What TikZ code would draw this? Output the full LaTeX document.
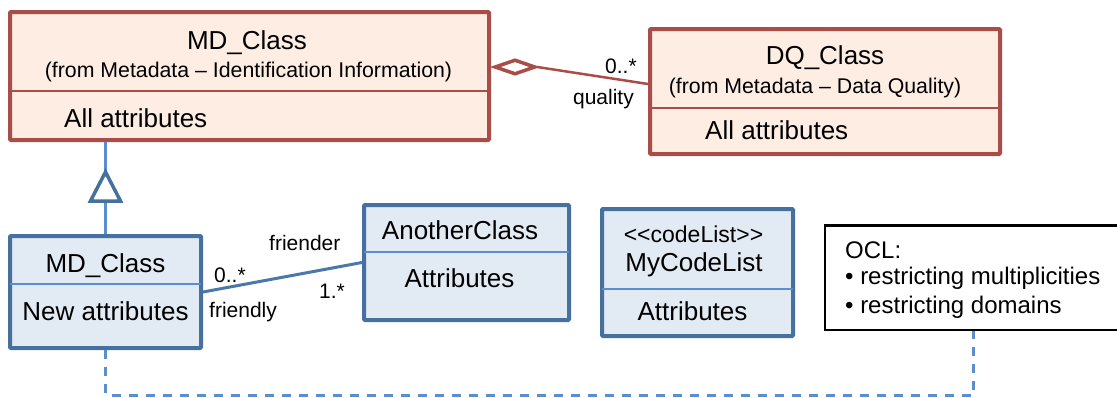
\documentclass[tikz,border=0pt]{standalone}
\usepackage{fontspec}
\setmainfont{Liberation Sans}
\usetikzlibrary{shapes.geometric}
\definecolor{umlred}{RGB}{168,77,72}
\definecolor{umlredfill}{RGB}{253,237,226}
\definecolor{umlblue}{RGB}{70,112,158}
\definecolor{umlbluefill}{RGB}{226,234,244}
\definecolor{umlbluelight}{RGB}{91,142,206}
\definecolor{umlassoc}{RGB}{74,120,170}
\begin{document}
\begin{tikzpicture}[x=1pt,y=-1pt,
  redbox/.style={draw=umlred, fill=umlredfill, line width=4pt, rounded corners=1pt, inner sep=0pt},
  bluebox/.style={draw=umlblue, fill=umlbluefill, line width=4pt, rounded corners=1pt, inner sep=0pt},
  notebox/.style={draw=black, fill=white, line width=2.5pt, inner sep=0pt},
  reddiv/.style={draw=umlred, line width=2.5pt},
  bluediv/.style={draw=umlbluelight, line width=2pt},
  big/.style={font=\fontsize{26}{30}\selectfont, inner sep=0pt},
  sub/.style={font=\fontsize{21.3}{25}\selectfont, inner sep=0pt},
  stereo/.style={font=\fontsize{23}{27}\selectfont, inner sep=0pt},
  note/.style={font=\fontsize{24}{28}\selectfont, inner sep=0pt, anchor=base west},
  lbl/.style={font=\fontsize{21}{25}\selectfont, inner sep=0pt},
  redassoc/.style={draw=umlred, line width=2.5pt},
  blueassoc/.style={draw=umlassoc, line width=3pt},
  genline/.style={draw=umlbluelight, line width=2.5pt},
  genhead/.style={draw=umlblue, fill=white, line width=3.5pt, line join=miter},
  depline/.style={draw=umlbluelight, line width=3pt, dash pattern=on 9pt off 8pt},
]
\useasboundingbox (0,0) rectangle (1117,397);
\clip (0,0) rectangle (1117,397);

% helper rows for compartment dividers
\coordinate (dA) at (0,91);
\coordinate (dB) at (0,108);
\coordinate (dC) at (0,284);
\coordinate (dD) at (0,252);
\coordinate (dE) at (0,289);

% ---- class boxes ----
\node[redbox, minimum width=479pt, minimum height=128pt] (mdtop) at (249.5,76) {};
\draw[reddiv] ([xshift=2pt]mdtop.west |- dA) -- ([xshift=-2pt]mdtop.east |- dA);
\node[big, anchor=base] (mdtopname) at (247,49) {MD\_Class};
\node[sub, anchor=base] (mdtopfrom) at (248.5,77) {(from Metadata – Identification Information)};
\node[big, anchor=base west] (mdtopattr) at (64,127) {All attributes};

\node[redbox, minimum width=350pt, minimum height=125pt] (dq) at (825,91.5) {};
\draw[reddiv] ([xshift=2pt]dq.west |- dB) -- ([xshift=-2pt]dq.east |- dB);
\node[big, anchor=base] (dqname) at (825,64) {DQ\_Class};
\node[sub, anchor=base] (dqfrom) at (815,93) {(from Metadata – Data Quality)};
\node[big, anchor=base west] (dqattr) at (705,139) {All attributes};

\node[bluebox, minimum width=191pt, minimum height=112pt] (mdsub) at (105.5,292) {};
\draw[bluediv] ([xshift=2pt]mdsub.west |- dC) -- ([xshift=-2pt]mdsub.east |- dC);
\node[big, anchor=base] (mdsubname) at (105.5,272) {MD\_Class};
\node[big, anchor=base] (mdsubattr) at (105.5,320) {New attributes};

\node[bluebox, minimum width=205pt, minimum height=115pt] (ac) at (466.5,262.5) {};
\draw[bluediv] ([xshift=2pt]ac.west |- dD) -- ([xshift=-2pt]ac.east |- dD);
\node[big, anchor=base] (acname) at (460,239) {AnotherClass};
\node[big, anchor=base] (acattr) at (459.5,287) {Attributes};

\node[bluebox, minimum width=191pt, minimum height=127pt] (mcl) at (697.5,272.5) {};
\draw[bluediv] ([xshift=2pt]mcl.west |- dE) -- ([xshift=-2pt]mcl.east |- dE);
\node[stereo, anchor=base] (mclstereo) at (693.5,242) {<\kern0pt<codeList>\kern0pt>};
\node[big, anchor=base] (mclname) at (694,271) {MyCodeList};
\node[big, anchor=base] (mclattr) at (692.5,320) {Attributes};

% ---- OCL note ----
\node[notebox, minimum width=305pt, minimum height=104.5pt] (ocl) at (977.6,277.5) {};
\node[note] (ocl1) at (845,258) {OCL:};
\node[note] (ocl2) at (845,284) {• restricting multiplicities};
\node[note] (ocl3) at (845,313) {• restricting domains};

% ---- aggregation MD_Class <>-- DQ_Class ----
\node[diamond, draw=umlred, fill=white, line width=3.5pt, minimum width=41pt,
      minimum height=15pt, inner sep=0pt] (agg) at (515,67) {};
\draw[redassoc] (agg.east) -- ([yshift=7.5pt]dq.west);
\node[lbl, anchor=base west] (qmult) at (605,73) {0..*};
\node[lbl, anchor=base east] (qrole) at (634,104) {quality};

% ---- generalization ----
\draw[genline] (mdsub.north) -- (mdsub.north |- mdtop.south);
\coordinate (gtip) at (105.5,172);
\draw[genhead] (gtip) -- ++(-15,29) -- ++(30,0) -- cycle;

% ---- association MD_Class -- AnotherClass ----
\draw[blueassoc] (mdsub.east) -- (ac.west);
\node[lbl, anchor=base west] (frer) at (269,250) {friender};
\node[lbl, anchor=base west] (mult0) at (214,282) {0..*};
\node[lbl, anchor=base west] (mult1) at (319,298) {1.*};
\node[lbl, anchor=base west] (frly) at (209,317) {friendly};

% ---- note attachment ----
\coordinate (corner) at (973,395);
\draw[depline] (mdsub.south) |- (corner) -- (corner |- ocl.south);
\end{tikzpicture}
\end{document}
